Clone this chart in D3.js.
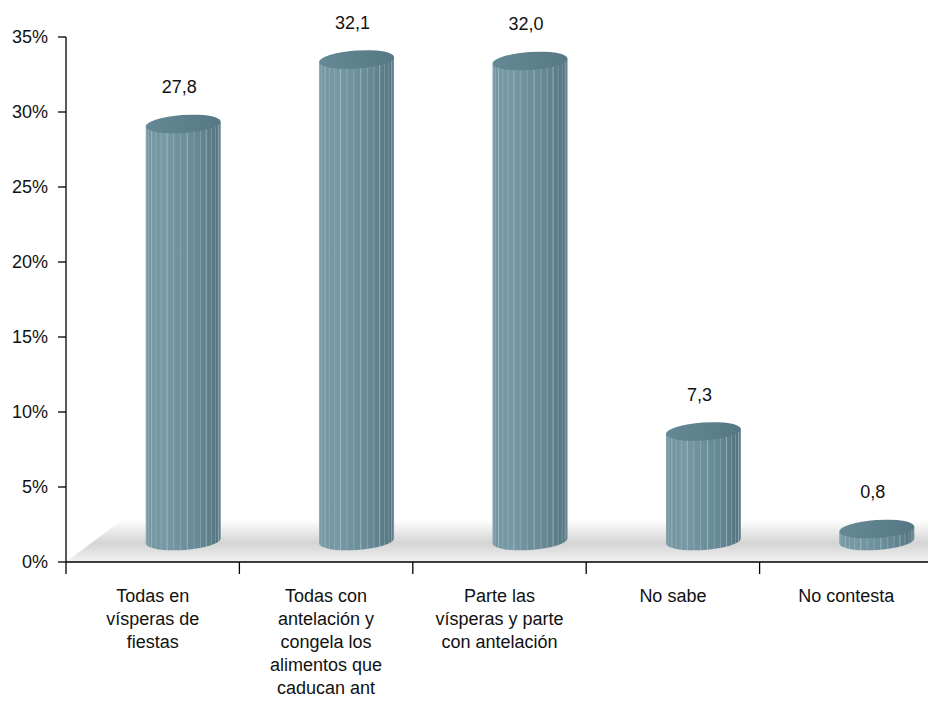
<!DOCTYPE html>
<html><head><meta charset="utf-8">
<script src="https://cdn.jsdelivr.net/npm/d3@7"></script>
<style>html,body{margin:0;padding:0;background:#fff;}svg{display:block;}</style>
</head><body>
<script>
const categories = [
  ["Todas en","vísperas de","fiestas"],
  ["Todas con","antelación y","congela los","alimentos que","caducan ant"],
  ["Parte las","vísperas y parte","con antelación"],
  ["No sabe"],
  ["No contesta"]
];
const values = [27.8, 32.1, 32.0, 7.3, 0.8];
const valueLabels = ["27,8","32,1","32,0","7,3","0,8"];
const yTicks = [0,5,10,15,20,25,30,35];

const W = 928, H = 702;
const FONT = "Liberation Sans, Arial, sans-serif";
const svg = d3.select("body").append("svg").attr("width", W).attr("height", H);
const defs = svg.append("defs");

const x0 = 66, yBot = 562, yTop = 37;
const step = 173.4;
const depthX = 56, depthY = 42;
const y = d3.scaleLinear().domain([0,35]).range([yBot, yTop]);
const x = d3.scaleBand().domain(d3.range(values.length)).range([x0, x0 + step*values.length]).paddingInner(0.567).paddingOuter(0.2835);

// floor gradient
const fg = defs.append("linearGradient").attr("id","floorG").attr("x1",0).attr("y1",0).attr("x2",0).attr("y2",1);
fg.append("stop").attr("offset","0%").attr("stop-color","#ffffff");
fg.append("stop").attr("offset","55%").attr("stop-color","#d4d4d4");
fg.append("stop").attr("offset","100%").attr("stop-color","#f2f2f2");
svg.append("path")
  .attr("d", `M${x0},${yBot} L${x0+depthX},${yBot-depthY} L${W+10},${yBot-depthY} L${W+10},${yBot} Z`)
  .attr("fill","url(#floorG)");

// cylinder gradients
const bg = defs.append("linearGradient").attr("id","bodyG").attr("x1",0).attr("y1",0).attr("x2",1).attr("y2",0);
bg.append("stop").attr("offset","0%").attr("stop-color","#7395a1");
bg.append("stop").attr("offset","25%").attr("stop-color","#7799a5");
bg.append("stop").attr("offset","70%").attr("stop-color","#668995");
bg.append("stop").attr("offset","100%").attr("stop-color","#52717c");
const tg = defs.append("linearGradient").attr("id","topG").attr("x1",0).attr("y1",0).attr("x2",1).attr("y2",0);
tg.append("stop").attr("offset","0%").attr("stop-color","#658994");
tg.append("stop").attr("offset","100%").attr("stop-color","#567885");

const phiDeg = -4, phi = phiDeg*Math.PI/180;
const ry = 9;
function pt(cx, cy, rx, th){
  return [cx + rx*Math.cos(th)*Math.cos(phi) - ry*Math.sin(th)*Math.sin(phi),
          cy + rx*Math.cos(th)*Math.sin(phi) + ry*Math.sin(th)*Math.cos(phi)];
}

const bars = svg.append("g");
values.forEach((v,i) => {
  const rx = x.bandwidth()/2;
  const cx = x(i) + rx + depthX/2 + 2.5;
  const cyB = y(0) - depthY/2;
  const cyT = y(v) - depthY/2;
  const g = bars.append("g");
  const tl = pt(cx,cyT,rx,Math.PI), tr = pt(cx,cyT,rx,0);
  const bl = pt(cx,cyB,rx,Math.PI), br = pt(cx,cyB,rx,0);
  g.append("path")
    .attr("d", `M${tl[0]},${tl[1]} L${bl[0]},${bl[1]} A${rx},${ry} ${phiDeg} 0 0 ${br[0]},${br[1]} L${tr[0]},${tr[1]} Z`)
    .attr("fill","url(#bodyG)");
  const N = 17;
  for (let k=1;k<N;k++){
    const th = Math.PI - k*Math.PI/N;
    const a = pt(cx,cyT,rx,th), b = pt(cx,cyB,rx,th);
    g.append("line").attr("x1",a[0]).attr("y1",a[1]).attr("x2",b[0]).attr("y2",b[1])
      .attr("stroke", "#b4ccd3").attr("stroke-width",0.9).attr("stroke-opacity", k%3===0?0.7:0.4);
  }
  g.append("ellipse").attr("cx",cx).attr("cy",cyT).attr("rx",rx).attr("ry",ry)
    .attr("transform",`rotate(${phiDeg},${cx},${cyT})`)
    .attr("fill","url(#topG)");
  svg.append("text").attr("x",cx-4).attr("y",cyT-31)
    .attr("text-anchor","middle").attr("font-family",FONT)
    .attr("font-size",18).attr("fill","#111").text(valueLabels[i]);
});

// y axis
const ya = svg.append("g").attr("font-family",FONT);
ya.append("line").attr("x1",x0).attr("x2",x0).attr("y1",yTop).attr("y2",yBot).attr("stroke","#000").attr("stroke-width",1.3);
yTicks.forEach(t => {
  ya.append("line").attr("x1",x0-8).attr("x2",x0).attr("y1",y(t)).attr("y2",y(t)).attr("stroke","#000").attr("stroke-width",1.3);
  ya.append("text").attr("x",48).attr("y",y(t)).attr("dy","0.35em").attr("text-anchor","end")
    .attr("font-size",18).attr("fill","#111").text(t+"%");
});

// x axis
const xa = svg.append("g").attr("font-family",FONT);
xa.append("line").attr("x1",x0).attr("x2",W).attr("y1",yBot).attr("y2",yBot).attr("stroke","#000").attr("stroke-width",1.5);
d3.range(values.length+1).forEach(k => {
  const tx = x0 + k*step;
  xa.append("line").attr("x1",tx).attr("x2",tx).attr("y1",yBot).attr("y2",yBot+12).attr("stroke","#000").attr("stroke-width",1.3);
});
categories.forEach((lines,i) => {
  const cx = x(i) + x.bandwidth()/2;
  const t = xa.append("text").attr("text-anchor","middle").attr("font-size",18).attr("fill","#111");
  lines.forEach((ln,j) => {
    t.append("tspan").attr("x",cx).attr("y",602 + j*23).text(ln);
  });
});
</script>
</body></html>
